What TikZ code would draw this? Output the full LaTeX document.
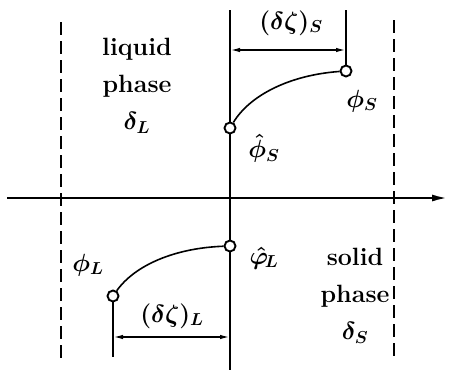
\documentclass[tikz,border=0pt]{standalone}
\usepackage{amsmath}
\usetikzlibrary{arrows.meta}
\begin{document}
\begin{tikzpicture}[x=1pt,y=-1pt,
  thickline/.style={line width=2.4pt},
  dashline/.style={line width=2.4pt, dash pattern=on 13pt off 6pt},
  dimline/.style={line width=1.6pt, {Latex[length=10pt,width=4.5pt]}-{Latex[length=10pt,width=4.5pt]}},
  curveline/.style={line width=1.6pt},
  pt/.style={circle, draw, fill=white, line width=1.9pt, inner sep=0pt, minimum size=11pt},
  lbl/.style={font=\fontsize{25}{25}\selectfont\bfseries\boldmath, inner sep=0pt},
  phase/.style={font=\fontsize{25}{37}\selectfont\bfseries\boldmath, align=center, inner sep=0pt}]
\useasboundingbox (0,0) rectangle (450,370);
% coordinates
\coordinate (ctop) at (230,10);
\coordinate (cbot) at (230,370);
\coordinate (axL) at (7,198);
\coordinate (axR) at (448,198);
\coordinate (lt) at (61,22);
\coordinate (lb) at (61,362);
\coordinate (rt) at (394,20);
\coordinate (rb) at (394,362);
\coordinate (st) at (346,10);
\coordinate (sd) at (346,50);
\coordinate (cs) at (230,50);
\coordinate (ld) at (113,337);
\coordinate (lbot) at (113,357);
\coordinate (cl) at (230,337);
% lines
\draw[dashline] (lt) -- (lb);
\draw[dashline] (rt) -- (rb);
\draw[thickline] (ctop) -- (cbot);
\draw[thickline, -{Latex[length=16pt,width=7pt]}] (axL) -- (axR);
% points
\node[pt] (phS) at (346,71) {};
\node[pt] (hphS) at (230,128) {};
\node[pt] (hphL) at (230,246) {};
\node[pt] (phL) at (113,296) {};
% curves
\draw[curveline] (hphS) .. controls (250,95) and (290,75) .. (phS);
\draw[curveline] (phL) .. controls (135,265) and (175,248) .. (hphL);
% dimension lines
\draw[thickline] (phS) -- (st);
\draw[thickline] (phL) -- (lbot);
\draw[dimline] (cs) -- (sd);
\draw[dimline] (ld) -- (cl);
% labels
\node[lbl] (dzS) at (291,23) {$(\delta\zeta)_S$};
\node[lbl] (dzL) at (172,316) {$(\delta\zeta)_L$};
\node[lbl] (lphS) at (362,101) {$\phi_S$};
\node[lbl] (lhphS) at (264,148) {$\hat{\phi}_S$};
\node[lbl] (lhphL) at (264,258) {$\hat{\varphi}_{\!L}$};
\node[lbl] (lphL) at (88,265) {$\phi_L$};
\node[phase] (liq) at (137,86) {liquid\\phase\\$\delta_L$};
\node[phase] (sol) at (355,296) {solid\\phase\\$\delta_S$};
\end{tikzpicture}
\end{document}
